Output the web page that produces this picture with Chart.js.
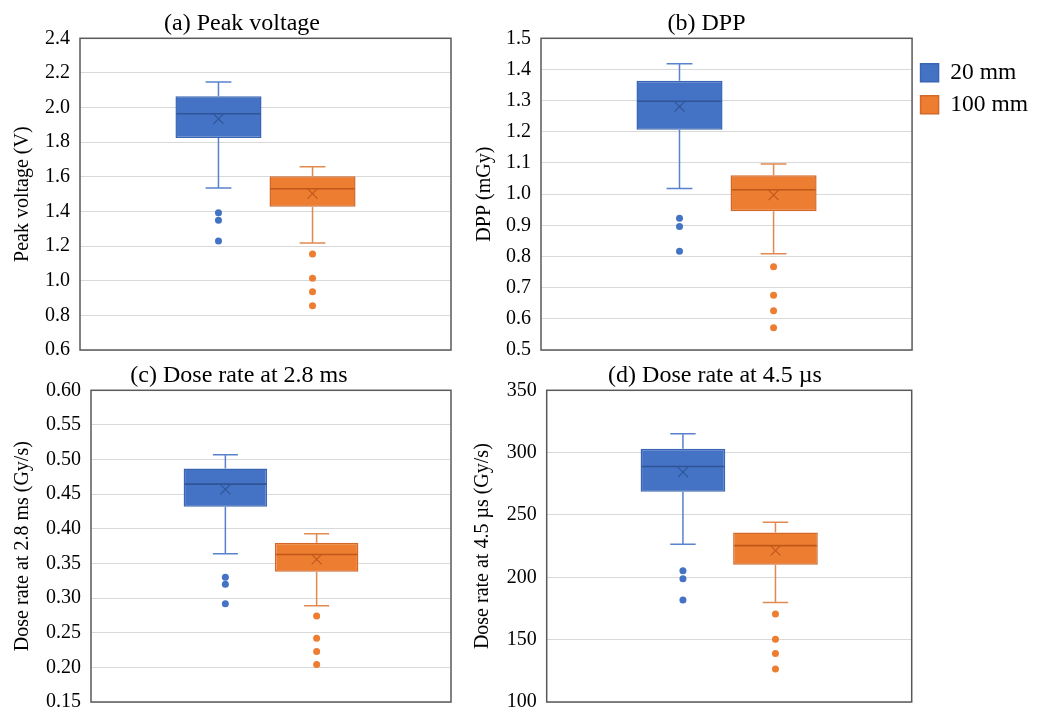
<!DOCTYPE html>
<html>
<head>
<meta charset="utf-8">
<script src="https://cdn.jsdelivr.net/npm/chart.js@4.4.1/dist/chart.umd.min.js"></script>
<style>
  html, body { margin: 0; padding: 0; background: #fff; overflow: hidden; }
  body { width: 1038px; height: 711px; position: relative; }
  canvas { position: absolute; }
</style>
</head>
<body>
<canvas id="panel-a" width="484" height="372" style="left:0px;top:0px"></canvas>
<canvas id="panel-c" width="478" height="372" style="left:0px;top:352px"></canvas>
<canvas id="panel-d" width="480" height="372" style="left:470px;top:352px"></canvas>
<canvas id="panel-b" width="665" height="372" style="left:375px;top:0px"></canvas>
<script>
// series
const seriesLabels = ['20 mm', '100 mm'];

// box stats: [lower whisker, Q1, median, Q3, upper whisker]
const voltageBox20 = [1.535, 1.824, 1.964, 2.065, 2.147];
const voltageBox100 = [1.218, 1.427, 1.531, 1.603, 1.658];
const voltageMean = [1.935, 1.503];
const voltageOut20 = [1.392, 1.349, 1.229];
const voltageOut100 = [1.154, 1.015, 0.937, 0.855];

const dppBox20 = [1.018, 1.207, 1.298, 1.364, 1.418];
const dppBox100 = [0.809, 0.945, 1.014, 1.061, 1.097];
const dppMean = [1.281, 0.997];
const dppOut20 = [0.923, 0.896, 0.817];
const dppOut100 = [0.767, 0.676, 0.626, 0.571];

const rate28Box20 = [0.364, 0.432, 0.4645, 0.487, 0.507];
const rate28Box100 = [0.289, 0.338, 0.363, 0.380, 0.393];
const rate28Mean = [0.457, 0.356];
const rate28Out20 = [0.330, 0.320, 0.292];
const rate28Out100 = [0.274, 0.242, 0.223, 0.204];

const rate45Box20 = [226.5, 268.6, 288.9, 303.1, 315.2];
const rate45Box100 = [179.9, 210.1, 225.4, 235.9, 244.2];
const rate45Mean = [284.4, 221.4];
const rate45Out20 = [205.3, 198.9, 181.8];
const rate45Out100 = [170.5, 150.4, 138.9, 126.5];

// panel texts and axis ranges
const panelTitles = ['(a) Peak voltage', '(b) DPP', '(c) Dose rate at 2.8 ms', '(d) Dose rate at 4.5 µs'];
const axisTitles = ['Peak voltage (V)', 'DPP (mGy)', 'Dose rate at 2.8 ms (Gy/s)', 'Dose rate at 4.5 µs (Gy/s)'];
const axisMin = [0.6, 0.5, 0.15, 100];
const axisMax = [2.4, 1.5, 0.60, 350];
const axisStep = [0.2, 0.1, 0.05, 50];
const axisDecimals = [1, 1, 2, 0];

const FONT = "'Liberation Serif', 'Times New Roman', serif";
const fills = ['#4472C4', '#ED7D31'];
const edges = ['#3A65B3', '#D2692A'];
const darks = ['#2F5597', '#C0581A'];
const whiskerCols = ['#5A82CC', '#E08A50'];

// draws frame, whiskers, medians, means and outliers from the data via the y scale
const boxPlotExtras = {
    id: 'boxPlotExtras',
    beforeDatasetsDraw(chart) {
        const a = chart.chartArea;
        const ctx = chart.ctx;
        ctx.save();
        ctx.strokeStyle = '#595959';
        ctx.lineWidth = 1.5;
        ctx.strokeRect(a.left, a.top, a.right - a.left, a.bottom - a.top);
        ctx.restore();
    },
    afterDatasetsDraw(chart) {
        const ctx = chart.ctx;
        const y = chart.scales.y;
        chart.data.datasets.forEach(function(ds, i) {
            const bar = chart.getDatasetMeta(i).data[0];
            if (!bar) return;
            const cx = bar.x;
            const half = bar.width / 2;
            const cap = bar.width * 0.15;
            const s = ds.stats;
            const yLo = y.getPixelForValue(s[0]);
            const yQ1 = y.getPixelForValue(s[1]);
            const yMed = y.getPixelForValue(s[2]);
            const yQ3 = y.getPixelForValue(s[3]);
            const yHi = y.getPixelForValue(s[4]);
            ctx.save();
            // whiskers
            ctx.strokeStyle = whiskerCols[i];
            ctx.lineWidth = 1.5;
            ctx.beginPath();
            ctx.moveTo(cx, yQ3); ctx.lineTo(cx, yHi);
            ctx.moveTo(cx - cap, yHi); ctx.lineTo(cx + cap, yHi);
            ctx.moveTo(cx, yQ1); ctx.lineTo(cx, yLo);
            ctx.moveTo(cx - cap, yLo); ctx.lineTo(cx + cap, yLo);
            ctx.stroke();
            // median
            ctx.strokeStyle = darks[i];
            ctx.lineWidth = 1.6;
            ctx.beginPath();
            ctx.moveTo(cx - half + 1, yMed); ctx.lineTo(cx + half - 1, yMed);
            ctx.stroke();
            // mean marker
            const ym = y.getPixelForValue(ds.mean);
            ctx.lineWidth = 1.2;
            ctx.beginPath();
            ctx.moveTo(cx - 5, ym - 5); ctx.lineTo(cx + 5, ym + 5);
            ctx.moveTo(cx - 5, ym + 5); ctx.lineTo(cx + 5, ym - 5);
            ctx.stroke();
            // outliers
            ctx.fillStyle = fills[i];
            ds.outliers.forEach(function(v) {
                ctx.beginPath();
                ctx.arc(cx, y.getPixelForValue(v), 3.5, 0, Math.PI * 2);
                ctx.fill();
            });
            ctx.restore();
        });
    }
};

function makePanel(id, k, boxes, means, outliers, layout) {
    const canvas = document.getElementById(id);
    const scales = {
        x: { display: false },
        y: {
            min: axisMin[k],
            max: axisMax[k],
            afterFit: function(scale) { scale.width = layout.axisWidth; },
            border: { display: false },
            grid: { color: '#d9d9d9', lineWidth: 1, drawTicks: false },
            ticks: {
                stepSize: axisStep[k],
                padding: 10,
                color: '#000',
                font: { family: FONT, size: 20 },
                callback: function(v) { return Number(v).toFixed(axisDecimals[k]); }
            },
            title: {
                display: true,
                text: axisTitles[k],
                color: '#000',
                font: { family: FONT, size: 20 },
                padding: { top: layout.titlePad, bottom: 0 }
            }
        }
    };
    if (layout.rightGap) {
        // empty spacer on the right so the panel title centres like the original
        scales.y2 = {
            position: 'right',
            afterFit: function(scale) { scale.width = layout.rightGap; },
            grid: { display: false },
            border: { display: false },
            ticks: { display: false }
        };
    }
    return new Chart(canvas, {
        type: 'bar',
        data: {
            labels: [''],
            datasets: boxes.map(function(b, i) {
                return {
                    label: seriesLabels[i],
                    data: [[b[1], b[3]]],
                    yAxisID: 'y',
                    stats: b,
                    mean: means[i],
                    outliers: outliers[i],
                    backgroundColor: fills[i],
                    borderColor: edges[i],
                    borderWidth: 1.5,
                    borderSkipped: false,
                    categoryPercentage: 0.507,
                    barPercentage: 0.915
                };
            })
        },
        options: {
            responsive: false,
            animation: false,
            events: [],
            layout: { padding: { left: layout.padLeft, right: layout.padRight, top: 0, bottom: 14 } },
            plugins: {
                title: {
                    display: true,
                    text: panelTitles[k],
                    color: '#000',
                    font: { family: FONT, size: 24, weight: 'normal' },
                    padding: { top: 9, bottom: 0.5 }
                },
                legend: {
                    display: !!layout.legend,
                    position: 'right',
                    align: 'start',
                    title: { display: true, text: ' ', font: { size: 13, lineHeight: 1 }, padding: { top: 39.5, bottom: 0 } },
                    labels: {
                        color: '#000',
                        boxWidth: 18,
                        boxHeight: 18,
                        padding: 8.5,
                        font: { family: FONT, size: 23.5 }
                    }
                },
                tooltip: { enabled: false }
            },
            scales: scales
        },
        plugins: [boxPlotExtras]
    });
}

document.addEventListener('DOMContentLoaded', function() {
    makePanel('panel-a', 0, [voltageBox20, voltageBox100], voltageMean, [voltageOut20, voltageOut100],
        { padLeft: 33, padRight: 33, axisWidth: 47, titlePad: -22 });
    makePanel('panel-b', 1, [dppBox20, dppBox100], dppMean, [dppOut20, dppOut100],
        { padLeft: 0, padRight: 2, axisWidth: 166, titlePad: 97.6, legend: true });
    makePanel('panel-c', 2, [rate28Box20, rate28Box100], rate28Mean, [rate28Out20, rate28Out100],
        { padLeft: 27, padRight: 27, axisWidth: 64, titlePad: -16 });
    makePanel('panel-d', 3, [rate45Box20, rate45Box100], rate45Mean, [rate45Out20, rate45Out100],
        { padLeft: 10, padRight: 0, axisWidth: 66.7, titlePad: -9.3, rightGap: 38.3 });
});
</script>
</body>
</html>
